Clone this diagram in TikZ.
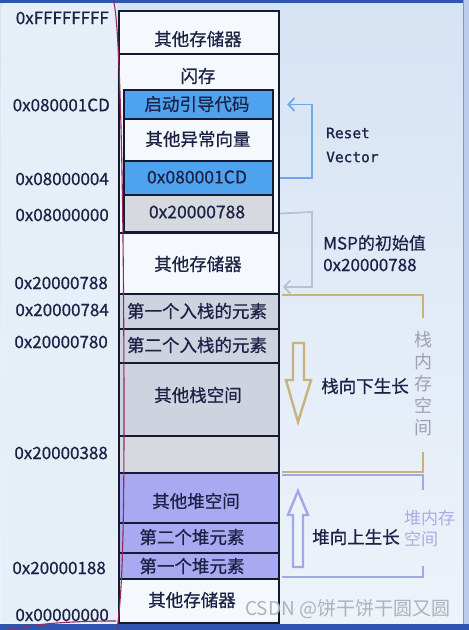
\documentclass[tikz,border=0pt]{standalone}
\usepackage{fontspec}
\setmainfont[FakeBold=0.6]{Noto Sans CJK SC}
\newfontfamily\plainf{Noto Sans CJK SC}
\newfontfamily\monof[FakeBold=0.8]{DejaVu Sans Mono}
\usetikzlibrary{arrows.meta}
\definecolor{bgtop}{HTML}{D6E3F4}
\definecolor{bgbot}{HTML}{EEF3FA}
\definecolor{leftp}{HTML}{E6EEF8}
\definecolor{stripc}{HTML}{2F55B0}
\definecolor{rightp}{HTML}{BACDEB}
\definecolor{rightl}{HTML}{7F97CF}
\definecolor{ink}{HTML}{131A32}
\definecolor{txtc}{HTML}{1C2145}
\definecolor{cwhite}{HTML}{F5F8FC}
\definecolor{cblue}{HTML}{4FA2EE}
\definecolor{cgray}{HTML}{D6D9E0}
\definecolor{cstack}{HTML}{CFD3DF}
\definecolor{cheap}{HTML}{A9A9F2}
\definecolor{resetc}{HTML}{6EA8E6}
\definecolor{mspc}{HTML}{B9C1DA}
\definecolor{goldc}{HTML}{C8B27C}
\definecolor{lavc}{HTML}{A2A7E6}
\definecolor{stackt}{HTML}{9EA2B0}
\definecolor{heapt}{HTML}{A9AEE2}
\definecolor{wmark}{HTML}{AEB2BA}
\definecolor{penc}{HTML}{96285A}
\tikzset{
  cellbox/.style={draw=ink, line width=2.2pt, anchor=north west, inner sep=0pt, minimum width=160pt},
  innerbox/.style={draw=ink, line width=2pt, anchor=north west, inner sep=0pt, minimum width=149pt},
  celltxt/.style={font=\fontsize{17.5}{20}\selectfont, text=txtc, inner sep=0pt},
  addr/.style={font=\fontsize{17}{20}\selectfont, text=txtc, anchor=east, inner sep=0pt},
  sidetxt/.style={font=\fontsize{17}{20}\selectfont, text=txtc, anchor=west, inner sep=0pt},
  monotxt/.style={font=\monof\fontsize{14.5}{17}\selectfont, text=txtc, anchor=west, inner sep=0pt},
  bracketgold/.style={draw=goldc, line width=2.6pt},
  bracketlav/.style={draw=lavc, line width=2.6pt},
}
\begin{document}
\begin{tikzpicture}[x=1pt,y=-1pt]
\useasboundingbox (0,0) rectangle (469,630);
% background
\shade[top color=bgtop, bottom color=bgbot] (0,0) rectangle (469,630);
\fill[leftp, rounded corners=5pt] (1,3) rectangle (117,623);
\fill[stripc] (0,0) rectangle (469,3);
\fill[rightp] (463,0) rectangle (469,630);
\draw[rightl, line width=1pt] (463,0) -- (463,630);
\fill[stripc] (0,624) rectangle (469,630);

% memory column
\node[cellbox, fill=cwhite, minimum height=43pt] (m1) at (118,10) {};
\node[cellbox, fill=cwhite, minimum height=179pt] (flash) at (118,53) {};
\node[innerbox, fill=cblue, minimum height=29pt] (f1) at (123,89) {};
\node[innerbox, fill=cwhite, minimum height=42pt] (f2) at (123,118) {};
\node[innerbox, fill=cblue, minimum height=34pt] (f3) at (123,160) {};
\node[innerbox, fill=cgray, minimum height=37pt] (f4) at (123,194) {};
\node[cellbox, fill=cwhite, minimum height=61pt] (m3) at (118,232) {};
\node[cellbox, fill=cstack, minimum height=35pt] (s1) at (118,293) {};
\node[cellbox, fill=cstack, minimum height=34pt] (s2) at (118,328) {};
\node[cellbox, fill=cstack, minimum height=73pt] (s3) at (118,362) {};
\node[cellbox, fill=cgray, minimum height=37pt] (s4) at (118,435) {};
\node[cellbox, fill=cheap, minimum height=50pt] (h1) at (118,472) {};
\node[cellbox, fill=cheap, minimum height=30pt] (h2) at (118,522) {};
\node[cellbox, fill=cheap, minimum height=26pt] (h3) at (118,552) {};
\node[cellbox, fill=cwhite, minimum height=44pt] (m4) at (118,578) {};

% cell texts
\node[celltxt] (t1) at (198,39) {其他存储器};
\node[celltxt] (t2) at (198,76) {闪存};
\node[celltxt] (t3) at (197,104) {启动引导代码};
\node[celltxt] (t4) at (198,139) {其他异常向量};
\node[celltxt] (t5) at (197,177) {0x080001CD};
\node[celltxt] (t6) at (197,212) {0x20000788};
\node[celltxt] (t7) at (198,264) {其他存储器};
\node[celltxt] (t8) at (197,311) {第一个入栈的元素};
\node[celltxt] (t9) at (197,345) {第二个入栈的元素};
\node[celltxt] (t10) at (198,395) {其他栈空间};
\node[celltxt] (t11) at (196,501) {其他堆空间};
\node[celltxt] (t12) at (192,537) {第二个堆元素};
\node[celltxt] (t13) at (192,566) {第一个堆元素};
\node[celltxt] (t14) at (192,600) {其他存储器};

% addresses
\node[addr] (a1) at (109,18) {0xFFFFFFFF};
\node[addr] (a2) at (110,105) {0x080001CD};
\node[addr] (a3) at (109,179) {0x08000004};
\node[addr] (a4) at (109,215) {0x08000000};
\node[addr] (a5) at (108,283) {0x20000788};
\node[addr] (a6) at (109,310) {0x20000784};
\node[addr] (a7) at (108,342) {0x20000780};
\node[addr] (a8) at (108,453) {0x20000388};
\node[addr] (a9) at (106,568) {0x20000188};
\node[addr] (a10) at (109,615) {0x00000000};

% reset vector arrow
\coordinate (rstart) at (f3 -| flash.east);
\coordinate (rend) at ([xshift=7pt]f1 -| flash.east);
\draw[resetc, line width=1.8pt, -{Straight Barb[length=6pt,width=13pt,line width=1.8pt]}]
  (rstart) -- ++(32,0) |- (rend);
\node[monotxt] (reset) at (326,133) {Reset};
\node[monotxt] (vector) at (326,157) {Vector};

% MSP arrow
\coordinate (mstart) at (f4 -| flash.east);
\coordinate (mend) at (283,287);
\draw[mspc, line width=1.8pt, -{Straight Barb[length=6pt,width=13pt,line width=1.8pt]}]
  (mstart) -- (312,212) |- (mend);
\node[sidetxt] (msp) at (323,243) {MSP的初始值};
\node[sidetxt] (mspv) at (323,265) {0x20000788};

% stack bracket
\draw[bracketgold] (282,295) -- (423,295) -- (423,318);
\draw[bracketgold] (423,452) -- (423,472) -- (282,472);
\node[font=\plainf\fontsize{18}{22}\selectfont, text=stackt, align=center, inner sep=0pt] (stackmem) at (423,384) {栈\\内\\存\\空\\间};
\draw[goldc, line width=2.4pt, line join=miter, fill=bgbot!60!bgtop]
  (293,343) -- (304,343) -- (304,380) -- (311,380) -- (298,422) -- (286,380) -- (293,380) -- cycle;
\node[celltxt] (down) at (365,386) {栈向下生长};

% heap bracket
\draw[bracketlav] (282,475) -- (423,475) -- (423,490);
\draw[bracketlav] (423,566) -- (423,577) -- (282,577);
\node[font=\plainf\fontsize{17}{21}\selectfont, text=heapt, align=left, anchor=west, inner sep=0pt] (heapmem) at (404,529) {堆内存\\空间};
\draw[lavc, line width=2.4pt, line join=miter, fill=bgbot]
  (298,491) -- (308,515) -- (303,515) -- (303,567) -- (293,567) -- (293,515) -- (288,515) -- cycle;
\node[celltxt] (up) at (356,537) {堆向上生长};

% pen annotation
\draw[penc, line width=1.1pt] (113,0) .. controls (120,12) and (124,200) .. (124,420) .. controls (124,560) and (121,600) .. (117,630);
\draw[penc, line width=1.1pt] (8,630) .. controls (40,622) and (90,621) .. (116,621);

% watermark
\node[font=\plainf\fontsize{19}{22}\selectfont, text=wmark, anchor=west, inner sep=0pt] (wm) at (245,609) {CSDN @饼干饼干圆又圆};
\end{tikzpicture}
\end{document}
